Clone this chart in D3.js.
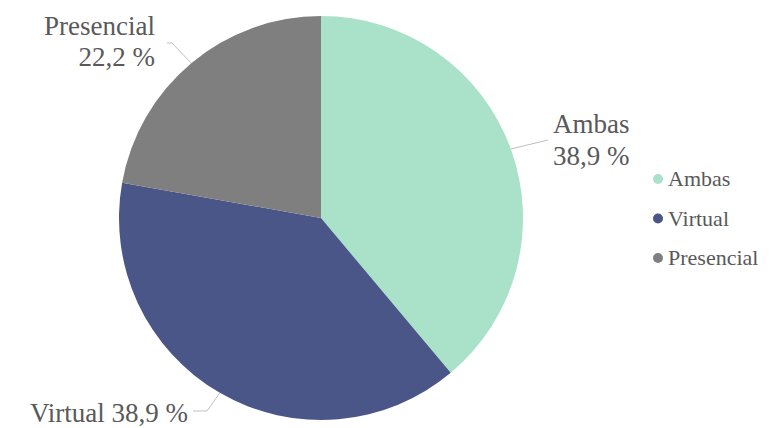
<!DOCTYPE html>
<html>
<head>
<meta charset="utf-8">
<script src="https://cdn.jsdelivr.net/npm/d3@7"></script>
<style>
  body { margin: 0; background: #fff; }
  text { font-family: "Times New Roman", "Liberation Serif", Tinos, "Noto Serif", "DejaVu Serif", serif; fill: #595959; }
</style>
</head>
<body>
<script>
// data
var categories = ["Ambas", "Virtual", "Presencial"];
var values = [38.9, 38.9, 22.2];
var valueLabels = ["38,9 %", "38,9 %", "22,2 %"];
var colors = ["#a9e1c9", "#4b5688", "#7f7f7f"];

var width = 776, height = 428;
var cx = 321, cy = 218, radius = 202;

var svg = d3.select("body")
    .append("svg")
    .attr("width", width)
    .attr("height", height);

var pie = d3.pie().sort(null).value(function(d) { return d; });
var arcs = pie(values);
var arc = d3.arc().innerRadius(0).outerRadius(radius);

var g = svg.append("g")
    .attr("transform", "translate(" + cx + "," + cy + ")");

g.selectAll("path")
    .data(arcs)
    .enter()
    .append("path")
    .attr("d", arc)
    .attr("fill", function(d, i) { return colors[i]; });

// leader line elbows and label anchors (relative to centre)
var labelLayout = [
    { elbow: [227, -78], end: [227, -78], x: 232, y: [-85, -53], anchor: "start", oneLine: false },
    { elbow: [-114, 193], end: [-128, 193], x: -133, y: [204], anchor: "end", oneLine: true },
    { elbow: [-149, -175], end: [-154, -175], x: -166, y: [-183, -152], anchor: "end", oneLine: false }
];

arcs.forEach(function(d, i) {
    var mid = (d.startAngle + d.endAngle) / 2;
    var p0 = [radius * Math.sin(mid), -radius * Math.cos(mid)];
    var L = labelLayout[i];
    g.append("polyline")
        .attr("points", [p0, L.elbow, L.end].map(function(p) { return p.join(","); }).join(" "))
        .attr("fill", "none")
        .attr("stroke", "#bfbfbf")
        .attr("stroke-width", 1);

    var t = g.append("text")
        .attr("text-anchor", L.anchor)
        .style("font-size", "27px");
    if (L.oneLine) {
        t.append("tspan").attr("x", L.x).attr("y", L.y[0])
            .text(categories[i] + " " + valueLabels[i]);
    } else {
        t.append("tspan").attr("x", L.x).attr("y", L.y[0]).text(categories[i]);
        t.append("tspan").attr("x", L.x).attr("y", L.y[1]).text(valueLabels[i]);
    }
});

// legend
var legend = svg.append("g")
    .attr("transform", "translate(658,179)");

var items = legend.selectAll("g")
    .data(categories)
    .enter()
    .append("g")
    .attr("transform", function(d, i) { return "translate(0," + (i * 39.5) + ")"; });

items.append("circle")
    .attr("r", 5)
    .attr("fill", function(d, i) { return colors[i]; });

items.append("text")
    .attr("x", 10)
    .attr("y", 7)
    .style("font-size", "22px")
    .text(function(d) { return d; });
</script>
</body>
</html>
